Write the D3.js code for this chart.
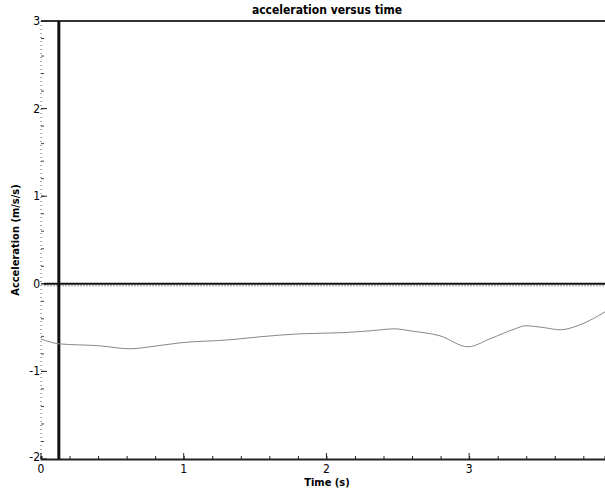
<!DOCTYPE html>
<html>
<head>
<meta charset="utf-8">
<title>acceleration versus time</title>
<script src="https://cdn.jsdelivr.net/npm/d3@7"></script>
<style>
* { margin: 0; padding: 0; }
body { background: #fff; }
text { fill: #000; }
.title { font-family: "DejaVu Sans Condensed", "DejaVu Sans", sans-serif; font-stretch: condensed; font-weight: bold; font-size: 12px; }
.axisLabel { font-family: "Liberation Sans Narrow", "DejaVu Sans Condensed", sans-serif; font-stretch: condensed; font-weight: bold; font-size: 11px; }
.tickLabel { font-family: "Liberation Sans Narrow", "DejaVu Sans Condensed", sans-serif; font-stretch: condensed; font-size: 12px; }
</style>
</head>
<body>
<div id="chart"></div>
<script>
// readings taken off the plot
var times = [0, 0.126, 0.413, 0.624, 0.764, 0.974, 1.324, 1.535, 1.815, 2.095, 2.306, 2.481, 2.586, 2.796, 2.992, 3.146, 3.322, 3.392, 3.532, 3.637, 3.777, 3.952];
var accel = [-0.63, -0.685, -0.708, -0.742, -0.719, -0.674, -0.639, -0.605, -0.571, -0.559, -0.537, -0.514, -0.537, -0.594, -0.719, -0.628, -0.514, -0.479, -0.502, -0.525, -0.468, -0.32];
var xTicks = [0, 1, 2, 3];
var yTicks = [-2, -1, 0, 1, 2, 3];
var markerTime = 0.125;   // the thick vertical line

var width = 605, height = 491;
var padLeft = 41, padRight = 605, padTop = 21, padBottom = 459;

var svg = d3.select("#chart").append("svg")
  .attr("width", width)
  .attr("height", height);

var x = d3.scaleLinear().domain([0, 3.952]).range([padLeft, padRight]);
var y = d3.scaleLinear().domain([-2, 3]).range([padBottom, padTop]);

// top border
svg.append("line")
  .attr("x1", x(0)).attr("x2", padRight)
  .attr("y1", y(3)).attr("y2", y(3))
  .attr("stroke", "#333").attr("stroke-width", 2);

// y axis: dotted line, minor ticks every 0.2
svg.append("line")
  .attr("x1", x(0)).attr("x2", x(0))
  .attr("y1", y(3)).attr("y2", y(-2))
  .attr("stroke", "#555").attr("stroke-width", 1)
  .attr("stroke-dasharray", "1,3");

var yMinor = d3.range(-2, 3.001, 0.2);
svg.selectAll(".yminor").data(yMinor).enter().append("line")
  .attr("x1", x(0)).attr("x2", x(0) + 3)
  .attr("y1", function(d) { return y(d); })
  .attr("y2", function(d) { return y(d); })
  .attr("stroke", "#444");

svg.selectAll(".ymajor").data(yTicks).enter().append("line")
  .attr("x1", x(0)).attr("x2", x(0) + 6)
  .attr("y1", function(d) { return y(d); })
  .attr("y2", function(d) { return y(d); })
  .attr("stroke", "#222");

svg.selectAll(".ylab").data(yTicks).enter().append("text")
  .attr("class", "tickLabel")
  .attr("x", x(0) - 1)
  .attr("y", function(d) { return y(d) + (d == -2 ? 2 : 4); })
  .attr("text-anchor", "end")
  .text(function(d) { return d; });

// x axis with minor ticks every 0.2
var xAxis = d3.axisBottom(x).tickValues(d3.range(0, 3.95, 0.2)).tickSize(-3).tickFormat("");
var gx = svg.append("g").attr("transform", "translate(0," + padBottom + ")").call(xAxis);
gx.select(".domain").attr("stroke", "#222").attr("stroke-width", 2);
gx.selectAll(".tick line").attr("stroke", "#222");

svg.selectAll(".xmajor").data(xTicks).enter().append("line")
  .attr("x1", function(d) { return x(d); })
  .attr("x2", function(d) { return x(d); })
  .attr("y1", padBottom).attr("y2", padBottom - 6)
  .attr("stroke", "#222");

svg.selectAll(".xlab").data(xTicks).enter().append("text")
  .attr("class", "tickLabel")
  .attr("x", function(d) { return x(d); })
  .attr("y", padBottom + 14)
  .attr("text-anchor", "middle")
  .text(function(d) { return d; });

// zero line
svg.append("line")
  .attr("x1", x(0) + 3).attr("x2", padRight)
  .attr("y1", y(0) + 2).attr("y2", y(0) + 2)
  .attr("stroke", "#999").attr("stroke-width", 1)
  .attr("stroke-dasharray", "2,1");
svg.append("line")
  .attr("x1", x(0) + 3).attr("x2", padRight)
  .attr("y1", y(0)).attr("y2", y(0))
  .attr("stroke", "#111").attr("stroke-width", 2);

// vertical marker
svg.append("line")
  .attr("x1", x(markerTime)).attr("x2", x(markerTime))
  .attr("y1", y(3)).attr("y2", y(-2))
  .attr("stroke", "#111").attr("stroke-width", 3);

// data curve
var line = d3.line()
  .x(function(d) { return x(d[0]); })
  .y(function(d) { return y(d[1]); })
  .curve(d3.curveMonotoneX);
svg.append("path")
  .datum(d3.zip(times, accel))
  .attr("d", line)
  .attr("fill", "none")
  .attr("stroke", "#888")
  .attr("stroke-width", 1);

// title and labels
svg.append("text")
  .attr("class", "title")
  .attr("x", 327).attr("y", 14)
  .attr("text-anchor", "middle")
  .text("acceleration versus time");

svg.append("text")
  .attr("class", "axisLabel")
  .attr("x", 327).attr("y", 486)
  .attr("text-anchor", "middle")
  .text("Time (s)");

svg.append("text")
  .attr("class", "axisLabel")
  .attr("transform", "translate(19," + y(0.5) + ") rotate(-90)")
  .attr("text-anchor", "middle")
  .text("Acceleration (m/s/s)");
</script>
</body>
</html>
